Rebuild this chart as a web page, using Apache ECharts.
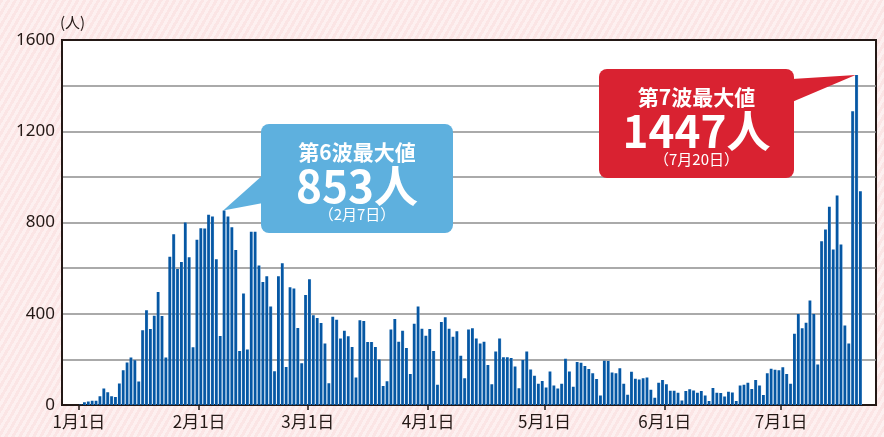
<!DOCTYPE html>
<html lang="ja">
<head>
<meta charset="utf-8">
<title>新規陽性者数の推移</title>
<script src="https://cdn.jsdelivr.net/npm/echarts@6/dist/echarts.min.js"></script>
<style>
html, body { margin: 0; padding: 0; }
body {
  width: 884px;
  height: 437px;
  overflow: hidden;
  background: repeating-linear-gradient(120deg, #fbe5e5 0px, #fbe5e5 3px, #fdf0f0 3px, #fdf0f0 6px);
}
#chart { width: 884px; height: 437px; }
</style>
</head>
<body>
<div id="chart"></div>
<script>
// 日別の新規陽性者数（1月1日〜7月21日、1日ごと）
const dailyCases = [
  2, 12, 15, 19, 19, 38, 72, 56, 38, 35,
  94, 152, 186, 208, 196, 103, 328, 415, 333, 391,
  495, 390, 208, 650, 749, 596, 627, 800, 648, 253,
  724, 775, 774, 834, 826, 639, 303, 853, 826, 779,
  680, 237, 489, 243, 759, 760, 611, 539, 564, 432,
  148, 564, 621, 167, 516, 511, 338, 183, 482, 551,
  393, 381, 359, 270, 95, 387, 374, 292, 326, 301,
  254, 121, 371, 368, 276, 276, 254, 200, 83, 104,
  331, 377, 277, 326, 250, 136, 356, 432, 334, 304,
  333, 237, 89, 364, 385, 334, 299, 323, 216, 117,
  331, 336, 292, 270, 277, 175, 91, 235, 291, 209,
  209, 206, 169, 73, 197, 234, 156, 128, 93, 105,
  77, 147, 86, 72, 93, 203, 147, 80, 188, 185,
  171, 158, 139, 114, 42, 194, 193, 142, 139, 161,
  93, 45, 146, 115, 112, 117, 121, 67, 32, 98,
  110, 91, 63, 63, 54, 20, 61, 69, 64, 54,
  61, 42, 18, 74, 54, 53, 37, 58, 55, 18,
  85, 89, 98, 70, 110, 86, 44, 139, 159, 155,
  152, 165, 136, 93, 312, 399, 336, 361, 458, 399,
  178, 718, 769, 869, 682, 918, 704, 349, 270, 1288,
  1447, 937
];

// 月初の日（1月1日からの日数）と目盛ラベル
const monthStartDays = [0, 31, 59, 90, 120, 151, 181];
const monthLabels = ['1月1日', '2月1日', '3月1日', '4月1日', '5月1日', '6月1日', '7月1日'];

// 吹き出し
const peak6 = { day: 37, value: 853, title: '第6波最大値', date: '（2月7日）' };
const peak7 = { day: 200, value: 1447, title: '第7波最大値', date: '（7月20日）' };

const TICK_SHIFT = -0.45; // 目盛は棒の左端寄り
const textColor = '#231815';

const chart = echarts.init(document.getElementById('chart'));

const option = {
  animation: false,
  grid: {
    left: 62,
    right: 8,
    top: 40,
    bottom: 32,
    show: true,
    backgroundColor: '#ffffff',
    borderColor: textColor,
    borderWidth: 2
  },
  xAxis: {
    type: 'value',
    min: -4.8,
    max: 205,
    splitLine: { show: false },
    axisLine: { onZero: false, lineStyle: { color: textColor, width: 2 } },
    axisTick: {
      show: true,
      length: 5,
      lineStyle: { color: textColor, width: 1.5 },
      customValues: monthStartDays.map(d => d + TICK_SHIFT)
    },
    axisLabel: {
      color: textColor,
      fontSize: 17,
      fontFamily: '"Noto Sans CJK JP"',
      margin: 8,
      customValues: monthStartDays.map(d => d + TICK_SHIFT),
      formatter: function (v) {
        const i = monthStartDays.findIndex(d => Math.abs(d + TICK_SHIFT - v) < 0.01);
        return i >= 0 ? monthLabels[i] : '';
      }
    }
  },
  yAxis: {
    type: 'value',
    min: 0,
    max: 1600,
    interval: 200,
    name: '(人)',
    nameLocation: 'end',
    nameGap: 10,
    nameTextStyle: {
      color: textColor,
      fontSize: 15,
      fontFamily: '"Noto Sans CJK JP"',
      align: 'left',
      padding: [0, 0, 0, -2]
    },
    axisLine: { show: true, onZero: false, lineStyle: { color: textColor, width: 2 } },
    axisTick: { show: false },
    axisLabel: {
      color: textColor,
      fontSize: 17,
      fontFamily: '"Noto Sans"',
      margin: 7,
      formatter: v => (v % 400 === 0 ? String(v) : '')
    },
    splitLine: {
      show: true,
      showMaxLine: false,
      lineStyle: { color: '#8e8e8e', width: 1.5 }
    }
  },
  series: [{
    type: 'bar',
    silent: true,
    barWidth: 3,
    itemStyle: {
      color: {
        type: 'linear', x: 0, y: 0, x2: 1, y2: 0,
        colorStops: [
          { offset: 0, color: '#0657a3' },
          { offset: 0.72, color: '#0657a3' },
          { offset: 1, color: '#5e9bd3' }
        ]
      }
    },
    data: dailyCases.map((v, i) => [i, v])
  }]
};

chart.setOption(option);

// 吹き出し（先端は棒の頂点）
function callout(peak, box, base, color) {
  const tip = chart.convertToPixel({ gridIndex: 0 }, [peak.day, peak.value]);
  const cx = box.x + box.width / 2;
  return {
    type: 'group',
    children: [
      {
        type: 'polygon',
        shape: { points: [[tip[0] - 1, tip[1]], base[0], base[1]] },
        style: { fill: color }
      },
      {
        type: 'rect',
        shape: { x: box.x, y: box.y, width: box.width, height: box.height, r: 8 },
        style: { fill: color }
      },
      {
        type: 'text',
        style: {
          text: peak.title, x: cx, y: box.y + 28, fill: '#fff',
          fontSize: 21, fontWeight: 'bold', fontFamily: '"Noto Sans CJK JP"',
          align: 'center', verticalAlign: 'middle'
        }
      },
      {
        type: 'text',
        style: {
          text: peak.value + '人', x: cx, y: box.y + 62, fill: '#fff',
          fontSize: 44, fontWeight: 'bold', fontFamily: '"Noto Sans CJK JP"',
          align: 'center', verticalAlign: 'middle'
        }
      },
      {
        type: 'text',
        style: {
          text: peak.date, x: cx, y: box.y + 90, fill: '#fff',
          fontSize: 15, fontFamily: '"Noto Sans CJK JP"',
          align: 'center', verticalAlign: 'middle'
        }
      }
    ]
  };
}

chart.setOption({
  graphic: [
    callout(peak6, { x: 261, y: 124, width: 192, height: 109 }, [[263, 203], [263, 175]], '#5eb0de'),
    callout(peak7, { x: 599, y: 69, width: 195, height: 109 }, [[792, 79], [792, 102]], '#d92231')
  ]
});
</script>
</body>
</html>
